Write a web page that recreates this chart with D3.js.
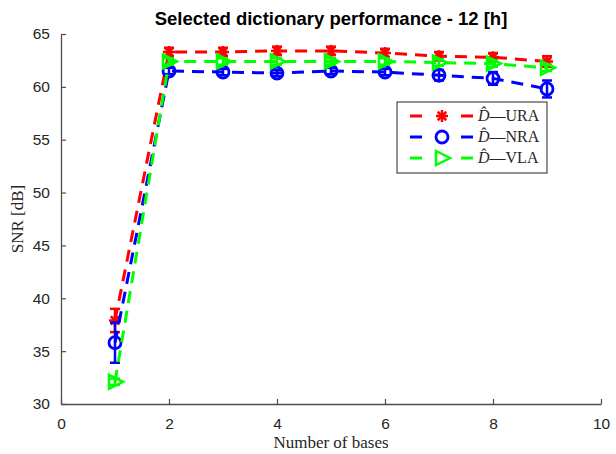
<!DOCTYPE html>
<html>
<head>
<meta charset="utf-8">
<script src="https://cdn.jsdelivr.net/npm/d3@7"></script>
<style>
  body { margin: 0; background: #fff; }
  .tick text { font-family: "Liberation Sans", Arial, sans-serif; font-size: 15.5px; fill: #262626; }
</style>
</head>
<body>
<div class="chart"></div>
<script>
// data
var bases = [1, 2, 3, 4, 5, 6, 7, 8, 9];
var uraSnr = [37.9, 63.3, 63.3, 63.4, 63.4, 63.2, 62.9, 62.8, 62.4];
var uraErr = [1.1, 0.4, 0.4, 0.4, 0.4, 0.4, 0.4, 0.4, 0.5];
var nraSnr = [35.8, 61.5, 61.4, 61.3, 61.5, 61.4, 61.1, 60.8, 59.8];
var nraErr = [1.9, 0.3, 0.3, 0.3, 0.3, 0.3, 0.5, 0.6, 0.8];
var vlaSnr = [32.1, 62.4, 62.4, 62.4, 62.4, 62.4, 62.3, 62.2, 61.8];
var vlaErr = [0.3, 0.3, 0.3, 0.3, 0.3, 0.3, 0.3, 0.3, 0.3];
var xTicks = [0, 2, 4, 6, 8, 10];
var yTicks = [30, 35, 40, 45, 50, 55, 60, 65];
var seriesNames = ["URA", "NRA", "VLA"];

var svgWidth = 616;
var svgHeight = 454;
var margin = { top: 34, right: 15, bottom: 50, left: 61 };
var width = svgWidth - margin.left - margin.right;
var height = svgHeight - margin.top - margin.bottom;

var svg = d3.select(".chart")
  .append("svg")
  .attr("width", svgWidth)
  .attr("height", svgHeight);

var chartGroup = svg.append("g")
  .attr("transform", `translate(${margin.left}, ${margin.top})`);

var xScale = d3.scaleLinear().domain([0, 10]).range([0, width]);
var yScale = d3.scaleLinear().domain([30, 65]).range([height, 0]);

// axes, ticks pointing inward like matlab
var axisColor = "#4d4d4d";
var xAxis = chartGroup.append("g")
  .attr("transform", `translate(0, ${height})`)
  .call(d3.axisBottom(xScale).tickValues(xTicks).tickSize(-5).tickPadding(14).tickSizeOuter(0));
var yAxis = chartGroup.append("g")
  .call(d3.axisLeft(yScale).tickValues(yTicks).tickSize(-5).tickPadding(11).tickSizeOuter(0));
[xAxis, yAxis].forEach(function(ax) {
  ax.select(".domain").attr("stroke", axisColor).attr("stroke-width", 1.3);
  ax.selectAll(".tick line").attr("stroke", axisColor).attr("stroke-width", 1.2);
});

var series = [
  { name: "URA", vals: uraSnr, err: uraErr, color: "#ff0000", marker: "star" },
  { name: "NRA", vals: nraSnr, err: nraErr, color: "#0000ff", marker: "circle" },
  { name: "VLA", vals: vlaSnr, err: vlaErr, color: "#00ff00", marker: "tri" }
];

var line = d3.line()
  .x(d => xScale(d.x))
  .y(d => yScale(d.y));

function drawMarker(g, type, color) {
  if (type === "star") {
    var r = 6;
    [0, 45, 90, 135].forEach(function(a) {
      var rad = a * Math.PI / 180;
      g.append("line")
        .attr("x1", -r * Math.cos(rad)).attr("y1", -r * Math.sin(rad))
        .attr("x2", r * Math.cos(rad)).attr("y2", r * Math.sin(rad))
        .attr("stroke", color).attr("stroke-width", 2.5);
    });
  } else if (type === "circle") {
    g.append("circle").attr("r", 6)
      .attr("fill", "none").attr("stroke", color).attr("stroke-width", 2.8);
  } else {
    g.append("path").attr("d", "M-6,-7L8,0L-6,7Z")
      .attr("fill", "none").attr("stroke", color).attr("stroke-width", 2.5)
      .attr("stroke-linejoin", "miter");
  }
}

series.forEach(function(s) {
  var pts = bases.map((b, i) => ({ x: b, y: s.vals[i], e: s.err[i] }));
  var g = chartGroup.append("g");

  g.append("path")
    .datum(pts)
    .attr("d", line)
    .attr("fill", "none")
    .attr("stroke", s.color)
    .attr("stroke-width", 3)
    .attr("stroke-dasharray", "12,8");

  // error bars
  pts.forEach(function(p) {
    var cx = xScale(p.x);
    var y1 = yScale(p.y + p.e), y2 = yScale(p.y - p.e);
    g.append("line").attr("x1", cx).attr("x2", cx).attr("y1", y1).attr("y2", y2)
      .attr("stroke", s.color).attr("stroke-width", 2.5);
    [y1, y2].forEach(function(yy) {
      g.append("line").attr("x1", cx - 5).attr("x2", cx + 5).attr("y1", yy).attr("y2", yy)
        .attr("stroke", s.color).attr("stroke-width", 2.5);
    });
  });

  pts.forEach(function(p) {
    var m = g.append("g").attr("transform", `translate(${xScale(p.x)}, ${yScale(p.y)})`);
    drawMarker(m, s.marker, s.color);
  });
});

// title and labels
svg.append("text")
  .attr("x", margin.left + width / 2)
  .attr("y", 25)
  .attr("text-anchor", "middle")
  .style("font-family", "'Liberation Sans', Arial, sans-serif")
  .style("font-weight", "bold")
  .style("font-size", "18.5px")
  .text("Selected dictionary performance - 12 [h]");

svg.append("text")
  .attr("x", margin.left + width / 2)
  .attr("y", 448)
  .attr("text-anchor", "middle")
  .style("font-family", "'Liberation Serif', 'Times New Roman', serif")
  .style("font-size", "17px")
  .attr("fill", "#262626")
  .text("Number of bases");

svg.append("text")
  .attr("transform", `translate(23, ${margin.top + height / 2}) rotate(-90)`)
  .attr("text-anchor", "middle")
  .style("font-family", "'Liberation Serif', 'Times New Roman', serif")
  .style("font-size", "17px")
  .attr("fill", "#262626")
  .text("SNR [dB]");

// legend
var legend = svg.append("g").attr("transform", "translate(397, 102)");
legend.append("rect")
  .attr("width", 150).attr("height", 71)
  .attr("fill", "#fff").attr("stroke", "#262626").attr("stroke-width", 1);

series.forEach(function(s, i) {
  var ly = 14 + i * 21;
  var row = legend.append("g").attr("transform", `translate(0, ${ly})`);
  row.append("line").attr("x1", 13).attr("x2", 25).attr("y1", 0).attr("y2", 0)
    .attr("stroke", s.color).attr("stroke-width", 3);
  row.append("line").attr("x1", 64).attr("x2", 76).attr("y1", 0).attr("y2", 0)
    .attr("stroke", s.color).attr("stroke-width", 3);
  var m = row.append("g").attr("transform", "translate(45, 0)");
  drawMarker(m, s.marker, s.color);
  var t = row.append("text").attr("x", 81).attr("y", 5)
    .style("font-family", "'Liberation Serif', 'Times New Roman', serif")
    .style("font-size", "16px")
    .attr("fill", "#262626");
  t.append("tspan").style("font-style", "italic").text("D\u0302");
  t.append("tspan").text("\u2014" + seriesNames[i]);
});
</script>
</body>
</html>
